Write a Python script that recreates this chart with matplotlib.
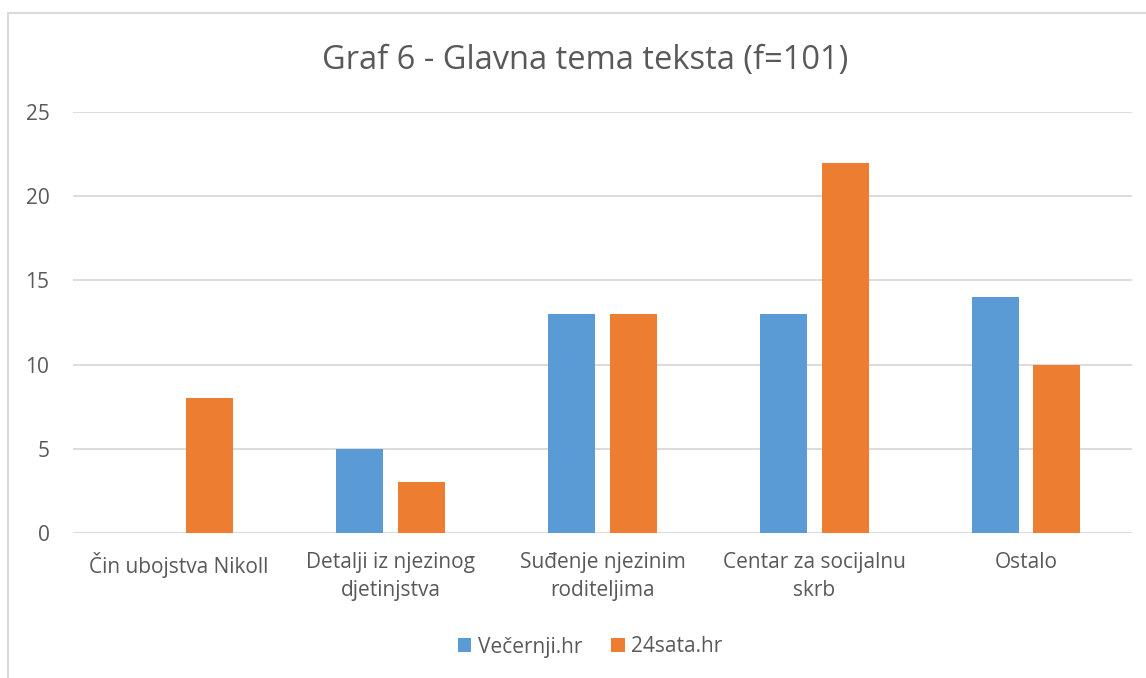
import matplotlib.pyplot as plt
import numpy as np
from matplotlib.patches import Rectangle

plt.rcParams['font.family'] = ['Open Sans', 'DejaVu Sans']

# podaci
kategorije = ['Čin ubojstva Nikoll', 'Detalji iz njezinog\ndjetinjstva', 'Suđenje njezinim\nroditeljima',
              'Centar za socijalnu\nskrb', 'Ostalo']
vecernji = [0, 5, 13, 13, 14]
sata24 = [8, 3, 13, 22, 10]
serije = ['Večernji.hr', '24sata.hr']

plava = '#5B9BD5'
narancasta = '#ED7D31'
siva = '#595959'

fig = plt.figure(figsize=(11.46, 6.78), dpi=100)
ax = fig.add_axes([73/1146, 1-533/678, (1132-73)/1146, (533-112)/678])

x = np.arange(len(kategorije))
w = 0.222
ax.bar(x - 0.145, vecernji, w, color=plava, label=serije[0], zorder=3)
ax.bar(x + 0.145, sata24, w, color=narancasta, label=serije[1], zorder=3)

ax.set_xlim(-0.5, len(kategorije) - 0.5)
ax.set_ylim(0, 25)
ax.set_yticks([0, 5, 10, 15, 20, 25])
ax.set_xticks(x)
ax.set_xticklabels(kategorije, fontsize=15, color=siva, linespacing=1.4)
ax.tick_params(axis='y', labelsize=15, labelcolor=siva, length=0, pad=17)
ax.tick_params(axis='x', length=0, pad=14)
ax.grid(axis='y', color='#D9D9D9', linewidth=1.3, zorder=0)
for s in ax.spines.values():
    s.set_visible(False)

fig.text(585/1146, 1-61/678, 'Graf 6 - Glavna tema teksta (f=101)', ha='center', va='center',
         fontsize=23.5, color=siva)

ax.legend(loc='center', bbox_to_anchor=(590/1146, 1-647/678), bbox_transform=fig.transFigure,
          ncol=2, frameon=False, fontsize=15, labelcolor=siva, handlelength=0.65, handleheight=0.65,
          handletextpad=0.3, columnspacing=1.4)

# okvir grafikona
fig.patches.append(Rectangle((8/1146, -0.1), 1.2, 1-13/678 + 0.1, transform=fig.transFigure,
                             fill=False, edgecolor='#D9D9D9', linewidth=1.5))

fig.savefig('out.png', dpi=100)
